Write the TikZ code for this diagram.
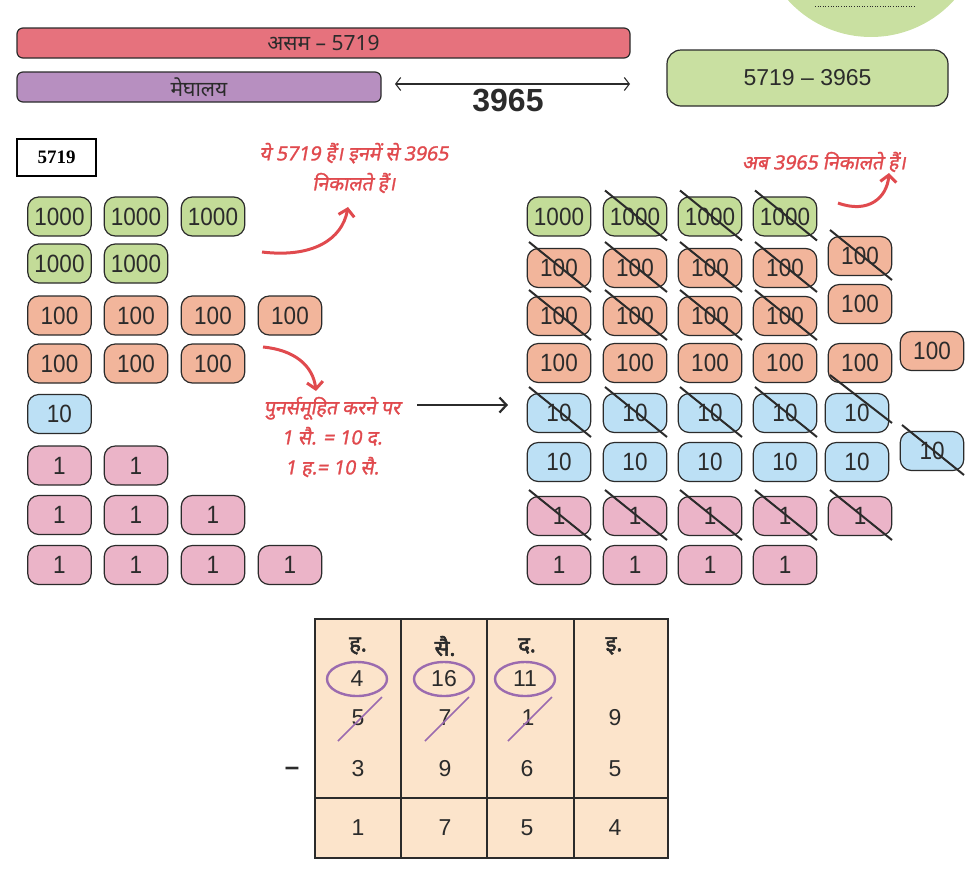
\documentclass[tikz,border=0pt]{standalone}
\usepackage{fontspec}
\setmainfont{Liberation Sans}
\newfontfamily\numfont[FakeStretch=0.9]{Liberation Sans}
\newfontfamily\hindi[Script=Devanagari]{Noto Sans}
\newfontfamily\hindib[Script=Devanagari,FakeBold=2.4]{Noto Sans}
\newfontfamily\hindit[Script=Devanagari,FakeSlant=0.18,FakeBold=1.4]{Noto Sans}
\newfontfamily\boxserif{Liberation Serif}
\usetikzlibrary{calc,arrows.meta,shapes.geometric}
\definecolor{tgreen}{HTML}{C3DC98}
\definecolor{tsalmon}{HTML}{F2B59B}
\definecolor{tblue}{HTML}{BCE0F5}
\definecolor{tpink}{HTML}{EBB4C8}
\definecolor{bred}{HTML}{E6727D}
\definecolor{bpurple}{HTML}{B78FC0}
\definecolor{bgreen}{HTML}{C9E0A1}
\definecolor{nred}{HTML}{E04A4E}
\definecolor{peach}{HTML}{FCE4CB}
\definecolor{ring}{HTML}{9B6BAF}
\definecolor{ink}{HTML}{2B2B2B}

\begin{document}
\begin{tikzpicture}[x=1pt,y=-1pt,
  coin/.style={draw=ink,line width=1.2pt,rounded corners=11pt,minimum width=63.5pt,minimum height=39pt,inner sep=0pt,text=ink,font=\numfont\fontsize{25}{25}\selectfont},
  thou/.style={coin,fill=tgreen},
  hund/.style={coin,fill=tsalmon},
  tens/.style={coin,fill=tblue},
  ones/.style={coin,fill=tpink},
  slash/.style={draw=ink,line width=2pt},
  struck/.style={append after command={($(\tikzlastnode.center)+(-30,-26)$) edge[slash] ($(\tikzlastnode.center)+(32,24)$)}},
  bar/.style={draw=ink,line width=1.2pt,rounded corners=6pt,minimum height=30pt,inner sep=0pt,text=ink,font=\hindi\fontsize{21}{21}\selectfont},
  note/.style={text=nred,align=center,font=\hindit\fontsize{19.5}{30}\selectfont},
  curl/.style={nred,line width=3pt,-{Straight Barb[length=7pt,width=16pt]}},
  cell/.style={text=ink,font=\fontsize{23}{23}\selectfont},
  hdr/.style={text=ink,font=\hindib\fontsize{22}{22}\selectfont},
  ringed/.style={cell,ellipse,draw=ring,line width=2.4pt,minimum width=60pt,minimum height=34pt,inner sep=0pt},
  cancel/.style={append after command={($(\tikzlastnode.center)+(-20,23)$) edge[draw=ring,line width=1.7pt] ($(\tikzlastnode.center)+(24,-21)$)}}]

\useasboundingbox (0,0) rectangle (979,871);

% ---- top strip ----
\fill[bgreen] (871,-75) circle (112);
\draw[ink,line width=0.9pt,dash pattern=on 1pt off 1.6pt] (815,6)--(915,6);

\node[bar,fill=bred,minimum width=613pt] (assam) at (323.5,43) {असम – 5719};
\node[bar,fill=bpurple,minimum width=364pt] (megh) at (199,87) {मेघालय};
\coordinate (gapl) at (395,84); \coordinate (gapr) at (630,84);
\draw[ink,line width=1.1pt,{Straight Barb[length=5pt,width=13pt]}-{Straight Barb[length=5pt,width=13pt]}] (gapl)--(gapr);
\node[text=ink,font=\bfseries\fontsize{32}{32}\selectfont] (gap) at (508,101) {3965};
\node[draw=ink,fill=bgreen,line width=1.2pt,rounded corners=14pt,minimum width=281pt,minimum height=56pt,text=ink,font=\fontsize{23}{23}\selectfont] (diff) at (807.5,78) {5719 – 3965};

\node[draw=black,line width=1.6pt,minimum width=79pt,minimum height=37pt,font=\boxserif\bfseries\fontsize{19}{19}\selectfont] (total) at (56.5,157.5) {5719};

% ---- 5719 as it is ----
\node[thou] (lk1) at (59.5,216.5) {1000}; \node[thou] (lk2) at (136,216.5) {1000}; \node[thou] (lk3) at (213,216.5) {1000};
\node[thou] (lk4) at (59.5,263.5) {1000}; \node[thou] (lk5) at (136,263.5) {1000};
\node[hund] (lh1) at (59.5,315.5) {100}; \node[hund] (lh2) at (136,315.5) {100}; \node[hund] (lh3) at (213,315.5) {100}; \node[hund] (lh4) at (290,315.5) {100};
\node[hund] (lh5) at (59.5,363.5) {100}; \node[hund] (lh6) at (136,363.5) {100}; \node[hund] (lh7) at (213,363.5) {100};
\node[tens] (lt1) at (59.5,414) {10};
\node[ones] (lo1) at (59.5,465.5) {1}; \node[ones] (lo2) at (136,465.5) {1};
\node[ones] (lo3) at (59.5,515) {1}; \node[ones] (lo4) at (136,515) {1}; \node[ones] (lo5) at (213,515) {1};
\node[ones] (lo6) at (59.5,565) {1}; \node[ones] (lo7) at (136,565) {1}; \node[ones] (lo8) at (213,565) {1}; \node[ones] (lo9) at (290,565) {1};

% ---- red notes ----
\node[note] (note1) at (354,168) {ये 5719 हैं। इनमें से 3965\\निकालते हैं।};
\node[note] (note2) at (824,162) {अब 3965 निकालते हैं।};
\node[note] (note3) at (332,437) {पुनर्समूहित करने पर\\1 सै. = 10 द.\\1 ह.= 10 सै.};

\coordinate (c1s) at (262,252); \coordinate (c1e) at (348,207);
\draw[curl] (c1s) .. controls (312,258) and (342,240) .. (c1e);
\coordinate (c2s) at (838,203); \coordinate (c2e) at (889,173);
\draw[curl] (c2s) .. controls (868,214) and (887,198) .. (c2e);
\coordinate (c3s) at (263,347); \coordinate (c3e) at (316,391);
\draw[curl] (c3s) .. controls (295,350) and (313,366) .. (c3e);

\coordinate (regl) at (417,405); \coordinate (regr) at (508,405);
\draw[ink,line width=2.2pt,-{Straight Barb[length=7pt,width=15pt]}] (regl)--(regr);

% ---- regrouped, then taken away ----
\node[thou] (rk1) at (559,216.5) {1000}; \node[thou,struck] (rk2) at (635,216.5) {1000};
\node[thou,struck] (rk3) at (710,216.5) {1000}; \node[thou,struck] (rk4) at (785,216.5) {1000};

\node[hund,struck] (rh1) at (559,268) {100}; \node[hund,struck] (rh2) at (635,268) {100};
\node[hund,struck] (rh3) at (710,268) {100}; \node[hund,struck] (rh4) at (785,268) {100};
\node[hund,struck] (rh5) at (860,256) {100};
\node[hund,struck] (rh6) at (559,316) {100}; \node[hund,struck] (rh7) at (635,316) {100};
\node[hund,struck] (rh8) at (710,316) {100}; \node[hund,struck] (rh9) at (785,316) {100};
\node[hund] (rh10) at (860,304) {100};
\node[hund] (rh11) at (559,363) {100}; \node[hund] (rh12) at (635,363) {100}; \node[hund] (rh13) at (710,363) {100};
\node[hund] (rh14) at (785,363) {100}; \node[hund] (rh15) at (860,363) {100}; \node[hund] (rh16) at (932,351) {100};

\node[tens,struck] (rt1) at (559,413) {10}; \node[tens,struck] (rt2) at (635,413) {10};
\node[tens,struck] (rt3) at (710,413) {10}; \node[tens,struck] (rt4) at (785,413) {10};
\node[tens] (rt5) at (857,413) {10};
\draw[slash] ($(rt5)+(-27,-38)$)--($(rt5)+(35,10)$);
\node[tens] (rt6) at (559,462) {10}; \node[tens] (rt7) at (635,462) {10}; \node[tens] (rt8) at (710,462) {10};
\node[tens] (rt9) at (785,462) {10}; \node[tens] (rt10) at (857,462) {10}; \node[tens,struck] (rt11) at (932,451) {10};

\node[ones,struck] (ro1) at (559,516) {1}; \node[ones,struck] (ro2) at (635,516) {1}; \node[ones,struck] (ro3) at (710,516) {1};
\node[ones,struck] (ro4) at (785,516) {1}; \node[ones,struck] (ro5) at (860,516) {1};
\node[ones] (ro6) at (559,565) {1}; \node[ones] (ro7) at (635,565) {1}; \node[ones] (ro8) at (710,565) {1}; \node[ones] (ro9) at (785,565) {1};

% ---- the sum, column by column ----
\fill[peach] (315,619) rectangle (668,858);
\draw[ink,line width=1.2pt] (315,619) rectangle (668,858);
\draw[ink,line width=1.2pt] (401,619)--(401,858) (487,619)--(487,858) (574,619)--(574,858);
\draw[ink,line width=1.8pt] (315,798)--(668,798);

\node[hdr] (hth) at (358,646) {ह.}; \node[hdr] (hhu) at (445,646) {सै.};
\node[hdr] (hte) at (527,646) {द.}; \node[hdr] (hon) at (614,646) {इ.};
\node[ringed] (g4) at (357,679) {4}; \node[ringed] (g16) at (444,679) {16}; \node[ringed] (g11) at (525,679) {11};
\node[cell,cancel] (a5) at (358,718) {5}; \node[cell,cancel] (a7) at (445,718) {7};
\node[cell,cancel] (a1) at (528,718) {1}; \node[cell] (a9) at (615,718) {9};
\node[text=ink,font=\bfseries\fontsize{26}{26}\selectfont] (minus) at (292,771) {–};
\node[cell] (b3) at (358,769) {3}; \node[cell] (b9) at (445,769) {9};
\node[cell] (b6) at (527,769) {6}; \node[cell] (b5) at (615,769) {5};
\node[cell] (s1) at (358,828) {1}; \node[cell] (s7) at (445,828) {7};
\node[cell] (s5) at (527,828) {5}; \node[cell] (s4) at (615,828) {4};
\end{tikzpicture}
\end{document}
